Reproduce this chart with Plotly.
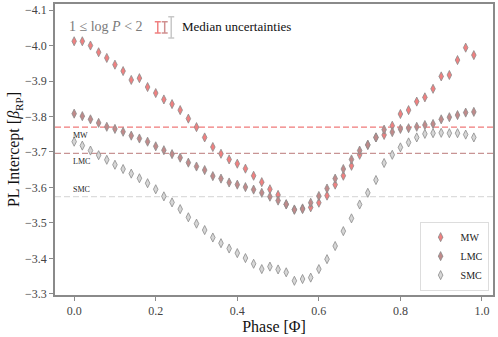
import plotly.graph_objects as go

# phase bins and PL intercepts
phase = [round(0.02 * i, 2) for i in range(50)]

mw = [-4.012, -4.012, -4.000, -3.981, -3.965, -3.946, -3.928, -3.903, -3.908, -3.883,
      -3.866, -3.848, -3.835, -3.818, -3.794, -3.770, -3.741, -3.714, -3.695, -3.679,
      -3.667, -3.653, -3.633, -3.615, -3.595, -3.579, -3.552, -3.538, -3.541, -3.544,
      -3.557, -3.577, -3.608, -3.633, -3.661, -3.692, -3.720, -3.741, -3.748, -3.774,
      -3.807, -3.818, -3.842, -3.854, -3.878, -3.913, -3.917, -3.959, -3.994, -3.973]

lmc = [-3.808, -3.801, -3.792, -3.782, -3.771, -3.765, -3.757, -3.746, -3.738, -3.729,
       -3.716, -3.705, -3.694, -3.684, -3.670, -3.659, -3.649, -3.632, -3.625, -3.614,
       -3.608, -3.601, -3.594, -3.585, -3.574, -3.563, -3.553, -3.537, -3.539, -3.557,
       -3.576, -3.597, -3.625, -3.652, -3.679, -3.704, -3.720, -3.741, -3.763, -3.756,
       -3.765, -3.767, -3.771, -3.776, -3.779, -3.792, -3.798, -3.804, -3.811, -3.813]

smc = [-3.729, -3.718, -3.704, -3.691, -3.678, -3.664, -3.652, -3.639, -3.626, -3.612,
       -3.595, -3.575, -3.558, -3.539, -3.516, -3.498, -3.480, -3.459, -3.443, -3.428,
       -3.415, -3.401, -3.385, -3.370, -3.377, -3.369, -3.361, -3.337, -3.342, -3.346,
       -3.370, -3.398, -3.435, -3.477, -3.513, -3.552, -3.585, -3.621, -3.669, -3.692,
       -3.713, -3.727, -3.741, -3.751, -3.753, -3.754, -3.753, -3.753, -3.749, -3.741]

# mean intercepts (dashed lines)
names = ['MW', 'LMC', 'SMC']
means = [-3.770, -3.696, -3.574]

# median uncertainties (glyph at the top)
unc_x = [0.205, 0.222, 0.238]
unc_y = -4.051
unc = [0.016, 0.016, 0.030]

fills = ['#f08080', '#c08a8a', '#d6d6d6']
line_cols = ['#f07a7a', '#c89494', '#dcdcdc']
bar_cols = ['#f08080', '#d09090', '#c8c8c8']

serif = 'Liberation Serif'

fig = go.Figure()

for name, vals, col in zip(names, [mw, lmc, smc], fills):
    fig.add_trace(go.Scatter(
        x=phase, y=vals, mode='markers', name=name,
        marker=dict(symbol='diamond-tall', size=6.5, color=col,
                    line=dict(color='#8c8c8c', width=0.8)),
    ))

for ux, u, col in zip(unc_x, unc, bar_cols):
    fig.add_trace(go.Scatter(
        x=[ux], y=[unc_y], mode='markers', showlegend=False, hoverinfo='skip',
        marker=dict(size=1, opacity=0),
        error_y=dict(type='data', array=[u], color=col, thickness=1.5, width=3),
    ))

for name, m, col, shift in zip(names, means, line_cols, [-8, -8, 7]):
    fig.add_shape(type='line', xref='paper', yref='y', x0=0, x1=1, y0=m, y1=m,
                  line=dict(color=col, width=1.2, dash='6px,3px'), layer='below')
    fig.add_annotation(x=-0.008, y=m, xref='x', yref='y', text=name, showarrow=False,
                       xanchor='left', yanchor='middle', yshift=shift,
                       font=dict(family=serif, size=8, color='#222222'))

fig.add_annotation(x=0.027, y=0.921, xref='paper', yref='paper',
                   text='1 ≤ log <i>P</i> &lt; 2', showarrow=False,
                   xanchor='left', yanchor='middle',
                   font=dict(family=serif, size=14, color='#7a7a7a'))
fig.add_annotation(x=0.285, y=0.921, xref='paper', yref='paper',
                   text='Median uncertainties', showarrow=False,
                   xanchor='left', yanchor='middle',
                   font=dict(family=serif, size=13, color='#111111'))

axis_style = dict(showline=True, linecolor='#8a8a8a', linewidth=1.5, mirror=True,
                  ticks='outside', ticklen=4, tickcolor='#8a8a8a', showgrid=False,
                  zeroline=False, automargin=False,
                  tickfont=dict(family=serif, size=12, color='#444444'),
                  tickformat='.1f')

fig.update_xaxes(range=[-0.047, 1.027], dtick=0.2, tick0=0,
                 title=dict(text='Phase [Φ]', font=dict(family=serif, size=16, color='#111111'),
                            standoff=2),
                 **axis_style)
fig.update_yaxes(range=[-3.297, -4.117], dtick=0.1, tick0=-4.1,
                 title=dict(text='PL Intercept [<i>β</i><sub>RP</sub>]',
                            font=dict(family=serif, size=16, color='#111111'), standoff=1),
                 **axis_style)

fig.update_layout(
    width=498, height=337,
    margin=dict(l=55, r=5, t=4, b=42),
    plot_bgcolor='white', paper_bgcolor='white',
    showlegend=True,
    legend=dict(x=0.99, y=0.015, xanchor='right', yanchor='bottom',
                bordercolor='#dddddd', borderwidth=1, bgcolor='white',
                font=dict(family=serif, size=10, color='#222222'),
                itemwidth=30, tracegroupgap=0),
)

# drop the default page margin so the figure sits at the window's corner
fig.write_html('out.html', config={'displayModeBar': False},
               post_script="document.body.style.margin='0';")
